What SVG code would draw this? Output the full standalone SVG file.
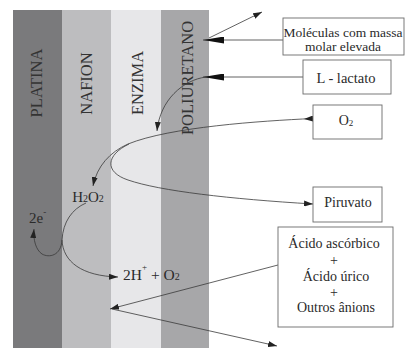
<svg xmlns="http://www.w3.org/2000/svg" width="405" height="348" viewBox="0 0 405 348">
<style>
.ln{fill:none;stroke:#3a3a3a;stroke-width:0.8}
.bx{fill:#fff;stroke:#6a6a6a;stroke-width:0.9}
text{font-family:'Liberation Serif',Tinos,'Noto Serif','DejaVu Serif',FreeSerif,'Nimbus Roman','Nimbus Roman No9 L','Times New Roman',Times,serif}
.t{fill:#2a2a2a}
.lay{fill:#333;font-size:16.5px;text-anchor:middle}
.c{text-anchor:middle}
</style>
<defs>
<marker id="a" markerUnits="userSpaceOnUse" markerWidth="10" markerHeight="6" refX="9" refY="3" orient="auto"><path d="M0,0 L9,3 L0,6 z" fill="#222"/></marker>
<marker id="as" markerUnits="userSpaceOnUse" markerWidth="10" markerHeight="6" refX="0" refY="3" orient="auto"><path d="M0,0 L9,3 L0,6 z" fill="#222"/></marker>
<marker id="b" markerUnits="userSpaceOnUse" markerWidth="22" markerHeight="7" refX="21" refY="3.5" orient="auto"><path d="M0,0 L21,3.5 L0,7 z" fill="#111"/></marker>
</defs>
<rect width="405" height="348" fill="#fff"/>
<g id="layers">
<rect x="13" y="10" width="49" height="338" fill="#7a7a7c"/>
<rect x="62" y="10" width="49" height="338" fill="#bdbdbf"/>
<rect x="111" y="10" width="50" height="338" fill="#e7e7e9"/>
<rect x="161" y="10" width="48" height="338" fill="#a7a7a9"/>
<text class="lay" transform="translate(42,83) rotate(-90)">PLATINA</text>
<text class="lay" transform="translate(92,83.5) rotate(-90)">NAFION</text>
<text class="lay" transform="translate(143,83) rotate(-90)">ENZIMA</text>
<text class="lay" transform="translate(193,78) rotate(-90)">POLIURETANO</text>
</g>
<g id="connectors">
<path class="ln" d="M209,38 L262,12" marker-end="url(#a)"/>
<path class="ln" d="M283,40 L203,40" marker-end="url(#b)"/>
<path class="ln" d="M303,77 L203,77" marker-end="url(#b)"/>
<path class="ln" d="M206,77 C183,80 160,100 157,131" marker-end="url(#a)"/>
<path class="ln" d="M313,118.5 C260,121 170,127 128,144 C110,152 97,166 93,186" marker-start="url(#as)" marker-end="url(#a)"/>
<path class="ln" d="M129,144 C106,155 104,172 128,180 C160,191 230,199 313,204" marker-end="url(#a)"/>
<path class="ln" d="M86,203 C72,209 63,222 62,240"/>
<path class="ln" d="M62,240 C61,256 49,258 42,254 C36,250 33,240 34,229" marker-end="url(#a)"/>
<path class="ln" d="M62,240 C63,262 82,276 118,277" marker-end="url(#a)"/>
<path class="ln" d="M278,265 L110,309" marker-end="url(#a)"/>
<path class="ln" d="M112,309 L277,346" marker-end="url(#a)"/>
</g>
<g id="molecules">
<rect class="bx" x="283" y="18" width="121" height="37"/>
<text class="t c" x="343" y="37" font-size="13.5">Moléculas com massa</text>
<text class="t c" x="343" y="51" font-size="13.5">molar elevada</text>
</g>
<g id="lactato">
<rect class="bx" x="303" y="60" width="88" height="34"/>
<text class="t c" x="346" y="83" font-size="14.5">L - lactato</text>
</g>
<g id="o2">
<rect class="bx" x="313" y="105" width="69" height="34"/>
<text class="t c" x="346" y="125" font-size="14">O<tspan font-size="9" dy="1">2</tspan></text>
</g>
<g id="piruvato">
<rect class="bx" x="313" y="187" width="69" height="35"/>
<text class="t c" x="348" y="207" font-size="14">Piruvato</text>
</g>
<g id="acidos">
<rect class="bx" x="278" y="227" width="115" height="100"/>
<text class="t c" x="334" y="248" font-size="14">Ácido ascórbico</text>
<text class="t c" x="334" y="265" font-size="14">+</text>
<text class="t c" x="336" y="281" font-size="14">Ácido úrico</text>
<text class="t c" x="334" y="297" font-size="14">+</text>
<text class="t c" x="336" y="312" font-size="14">Outros ânions</text>
</g>
<g id="h2o2">
<text class="t c" x="88" y="202" font-size="15">H<tspan font-size="10">2</tspan>O<tspan font-size="10">2</tspan></text>
</g>
<g id="electrons">
<text class="t" x="29" y="223" font-size="15">2e<tspan font-size="9" dy="-8">-</tspan></text>
</g>
<g id="products">
<text class="t" x="123" y="280" font-size="15.5">2H<tspan font-size="9" dy="-10">+</tspan><tspan dy="10"> + O</tspan><tspan font-size="10">2</tspan></text>
</g>
</svg>
